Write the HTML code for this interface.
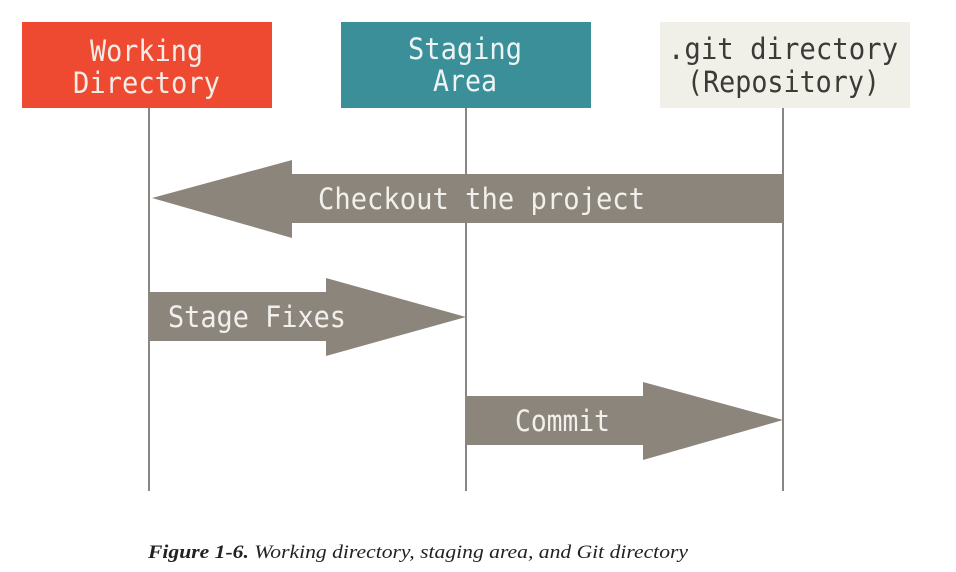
<!DOCTYPE html>
<html><head><meta charset="utf-8"><style>
html,body{margin:0;padding:0;background:#fff;width:956px;height:572px;overflow:hidden}
</style></head><body>
<svg width="956" height="572" viewBox="0 0 956 572" xmlns="http://www.w3.org/2000/svg">
<rect x="22" y="22" width="250" height="86" fill="#ee4a31"/>
<rect x="341" y="22" width="250" height="86" fill="#3a8f99"/>
<rect x="660" y="22" width="250" height="86" fill="#f0efe8"/>
<g stroke="#8a8580" stroke-width="2">
<line x1="149" y1="108" x2="149" y2="491"/>
<line x1="466" y1="108" x2="466" y2="491"/>
<line x1="783" y1="108" x2="783" y2="491"/>
</g>
<g fill="#8c857c">
<polygon points="783,174 292,174 292,160 152,198 292,238 292,223 783,223"/>
<polygon points="149,292 326,292 326,278 466,317 326,356 326,341 149,341"/>
<polygon points="466,396 643,396 643,382 783,420 643,460 643,445 466,445"/>
</g>
<g font-family="DejaVu Sans Mono, Liberation Mono, monospace" font-size="29">
<text x="90" y="61" fill="#f4ece6" textLength="113" lengthAdjust="spacingAndGlyphs">Working</text>
<text x="73" y="93" fill="#f4ece6" textLength="147" lengthAdjust="spacingAndGlyphs">Directory</text>
<text x="408" y="59" fill="#eef4f4" textLength="114" lengthAdjust="spacingAndGlyphs">Staging</text>
<text x="433" y="91" fill="#eef4f4" textLength="64" lengthAdjust="spacingAndGlyphs">Area</text>
<text x="668" y="59" fill="#3a3a36" textLength="230" lengthAdjust="spacingAndGlyphs">.git directory</text>
<text x="687" y="92" fill="#3a3a36" textLength="193" lengthAdjust="spacingAndGlyphs">(Repository)</text>
<text x="318" y="209" fill="#f2f0ec" textLength="327" lengthAdjust="spacingAndGlyphs">Checkout the project</text>
<text x="168" y="327" fill="#f2f0ec" textLength="178" lengthAdjust="spacingAndGlyphs">Stage Fixes</text>
<text x="515" y="431" fill="#f2f0ec" textLength="95" lengthAdjust="spacingAndGlyphs">Commit</text>
</g>
<text x="148" y="558" font-family="Liberation Serif, serif" font-size="19" fill="#222" textLength="540" lengthAdjust="spacingAndGlyphs"><tspan font-weight="bold" font-style="italic">Figure 1-6.</tspan><tspan font-style="italic"> Working directory, staging area, and Git directory</tspan></text>
</svg>
</body></html>
